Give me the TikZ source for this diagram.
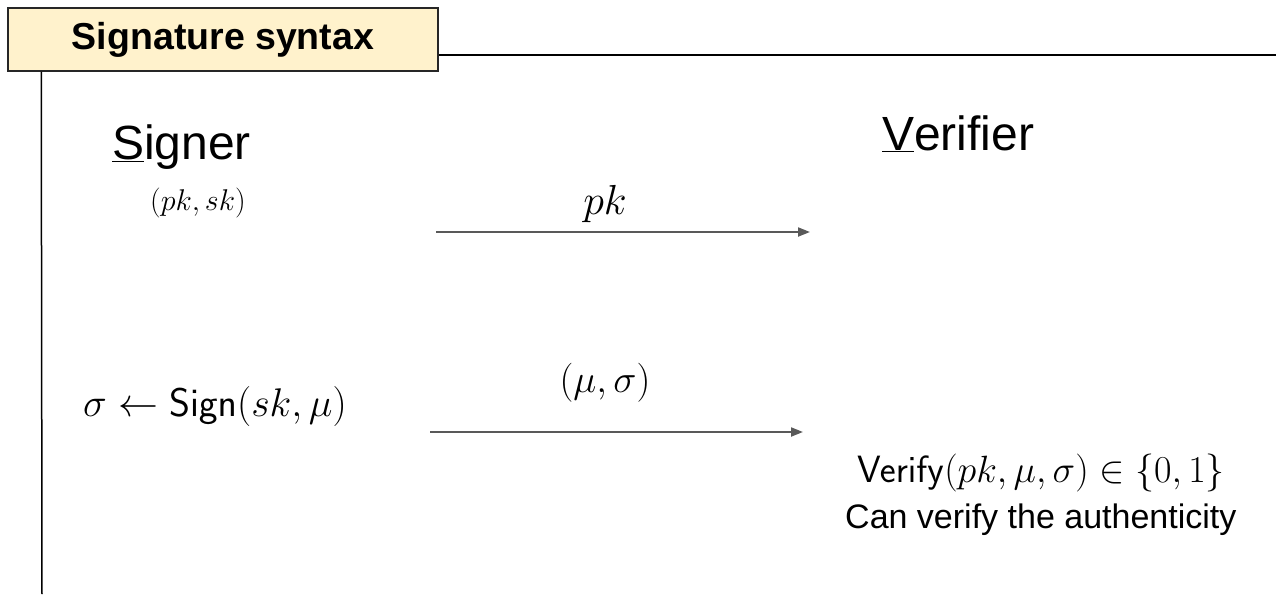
\RequirePackage{fix-cm}
\documentclass[tikz,border=0pt]{standalone}
\usepackage[no-math]{fontspec}
\newfontfamily\arial{Liberation Sans}
\usetikzlibrary{arrows.meta}
\definecolor{titlefill}{HTML}{FFF2CC}
\definecolor{arrowgray}{HTML}{595959}
\begin{document}
\begin{tikzpicture}[x=1pt,y=-1pt,
  titlebox/.style={draw=black!85, line width=1.5pt, fill=titlefill, inner sep=0pt,
    minimum width=430pt, minimum height=63pt, font=\arial\bfseries\fontsize{37.5}{42}\selectfont},
  frameline/.style={draw=black, line width=1.5pt},
  msg/.style={draw=arrowgray, line width=2pt, -{Triangle[length=12pt,width=9pt]}},
  head/.style={inner sep=0pt, font=\arial\fontsize{48}{56}\selectfont},
  txt/.style={inner sep=0pt, font=\arial\fontsize{34}{40}\selectfont},
  mth/.style={inner sep=0pt}
]
\useasboundingbox (0,0) rectangle (1276,594);
\node[titlebox] (title) at (223,39.5) {\raisebox{-2pt}{Signature syntax}};
\coordinate (hl) at (1276,55);
\coordinate (vl) at (42,594);
\draw[frameline] ([yshift=-15.5pt]title.east) -- (hl);
\draw[frameline] ([xshift=34pt]title.south west) -- (vl);

\node[head, anchor=base west] (signer) at (112,159) {\underline{S}igner};
\node[head, anchor=base west] (verifier) at (882,150) {\underline{V}erifier};

\node[mth] (keys) at (198,203) {\fontsize{30}{36}\selectfont$(pk,sk)$};

\coordinate (a1s) at (436,232);
\coordinate (a1e) at (810,232);
\draw[msg] (a1s) -- (a1e);
\node[mth, anchor=base] (pklab) at (605,214) {\fontsize{42}{48}\selectfont$pk$};

\node[mth, anchor=base west] (sign) at (83,416) {\fontsize{40}{46}\selectfont$\sigma\leftarrow\mathsf{Sign}(sk,\mu)$};
\node[mth, anchor=base] (msglab) at (605,392) {\fontsize{39}{46}\selectfont$(\mu,\sigma)$};

\coordinate (a2s) at (430,432);
\coordinate (a2e) at (803,432);
\draw[msg] (a2s) -- (a2e);

\node[mth, anchor=base west] (verify) at (857,482) {\fontsize{38}{44}\selectfont$\mathsf{Verify}(pk,\mu,\sigma)\in\{0,1\}$};
\node[txt, anchor=base west] (auth) at (845,528) {Can verify the authenticity};
\end{tikzpicture}
\end{document}
